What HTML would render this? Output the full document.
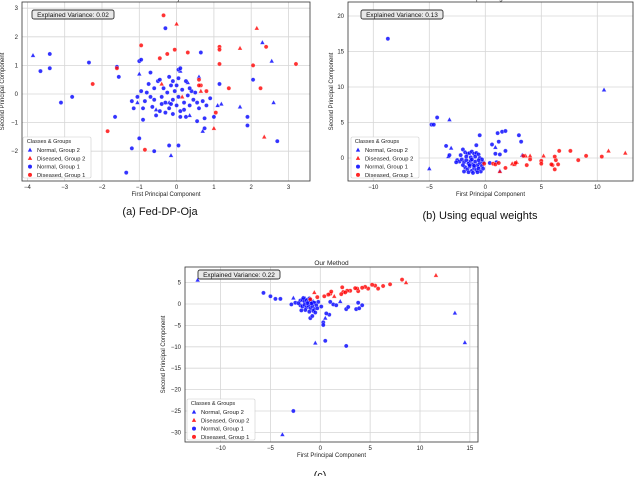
<!DOCTYPE html>
<html><head><meta charset="utf-8"><style>
body{margin:0;background:#fff;width:640px;height:476px;overflow:hidden;font-family:"Liberation Sans",sans-serif}
svg text{font-family:"Liberation Sans",sans-serif}
</style></head><body>
<svg id="fig" width="640" height="476" viewBox="0 0 640 476" xmlns="http://www.w3.org/2000/svg"></svg>
<script>
// ---- Panel A: DP Fed Oja ----
const aN2 = [[-3.85,1.35],[-1.0,0.7],[-1.05,-0.3],[0.1,0.8],[0.6,0.6],[0.3,0.4],[1.1,-0.4],[1.2,-0.35],[1.7,-0.45],[2.3,1.8],[2.55,1.15],[2.6,-0.3],[0.7,-1.3],[-0.15,-2.15],[0.35,-0.75],[-0.2,-0.3],[-0.55,-0.55]];
const aD2 = [[0.0,2.45],[2.15,2.3],[1.7,1.6],[2.35,-1.5],[1.0,-1.2],[0.65,0.1],[0.15,-0.1],[-0.4,0.35]];
const aN1 = [[-3.4,1.4],[-3.65,0.8],[-3.4,0.9],[-2.35,1.1],[-3.1,-0.3],[-2.8,-0.1],[-1.6,0.95],[-1.55,0.6],[-1.65,-0.8],[-1.2,-0.25],[-1.15,-0.5],[-1.2,-1.9],[-1.0,1.15],[-0.95,1.2],[-0.9,-0.9],[-1.0,-1.55],[-0.9,-0.5],[-0.7,0.75],[-1.35,-2.75],[-0.6,-2.0],[-0.2,-1.8],[0.05,-1.8],[-0.3,2.3],[0.65,1.45],[1.15,0.35],[2.05,0.5],[1.9,-0.8],[1.9,-1.1],[2.7,-1.65],[1.0,-0.8],[0.75,-0.85],[0.75,-1.2],[0.55,-0.95],[0.05,0.85],[0.1,0.9],
[-0.8,0.05],[-0.7,-0.1],[-0.6,0.2],[-0.5,0.45],[-0.45,0.5],[-0.4,-0.1],[-0.35,0.2],[-0.3,-0.3],[-0.25,0.05],[-0.2,-0.5],[-0.15,0.3],[-0.1,-0.2],[-0.05,0.1],[0.0,-0.4],[0.0,0.3],[0.05,-0.1],[0.1,-0.6],[0.15,0.15],[0.2,-0.3],[0.25,0.45],[0.3,-0.05],[0.35,-0.4],[0.4,0.1],[0.45,-0.2],[0.5,0.05],[0.55,-0.3],[0.6,-0.5],[0.7,-0.25],[0.8,-0.4],[-0.65,-0.45],[-0.55,-0.75],[-0.45,-0.6],[-0.3,-0.65],[-0.1,-0.7],[0.1,-0.8],[0.2,-0.55],[-0.75,0.35],[-0.85,-0.25],[-0.6,-0.2],[-0.2,0.6],[-0.1,0.45],[0.05,0.55],[0.25,-0.8],[-0.4,-0.35],[-0.15,-0.35],[0.35,0.2],[-0.95,0.1],[0.9,-0.15],[-1.05,-0.1]];
const aD1 = [[-0.35,2.75],[-0.95,1.7],[-0.25,1.4],[-0.45,1.25],[0.3,1.45],[-0.05,1.55],[1.15,1.65],[1.15,1.55],[1.15,1.05],[2.05,1.0],[2.4,1.65],[3.2,1.05],[-1.6,0.9],[-2.25,0.35],[-1.85,-1.3],[-0.85,-1.95],[0.6,0.5],[0.65,0.3],[0.8,0.1],[1.4,0.2],[2.25,0.2],[1.05,-0.65],[0.6,0.3]];
const aXTicks = [-4,-3,-2,-1,0,1,2,3];
const aYTicks = [-2,-1,0,1,2,3];
const aVar = "0.02";

// ---- Panel B: Equal Weights ----
const bN2 = [[10.6,9.6],[-3.2,5.4],[-3.05,1.4],[-5.0,-1.5],[0.9,1.5],[1.3,-1.8],[3.3,0.4],[-3.3,0.2],[-0.6,-1.2],[-1.5,-0.5]];
const bD2 = [[11.0,1.0],[12.5,0.7],[5.2,0.3],[4.0,0.3],[3.6,0.3],[2.4,-0.8],[2.6,-0.9],[1.3,-1.9],[2.8,-0.6]];
const bN1 = [[-8.7,16.8],[-4.3,5.7],[-4.8,4.7],[-4.6,4.7],[-0.5,3.2],[1.1,3.5],[1.5,3.7],[1.8,3.8],[3.0,3.2],[3.2,2.3],[1.2,2.3],[0.6,1.9],[1.8,1.0],[0.9,0.6],[1.3,0.5],[-3.5,1.7],[-3.2,0.4],[-0.8,1.8],[0.4,-0.7],[1.0,-0.6],
[-2.0,1.2],[-1.8,0.8],[-1.6,0.6],[-1.4,0.7],[-1.2,0.9],[-1.0,0.6],[-0.8,0.7],[-0.6,0.5],[-2.5,-0.3],[-2.3,-0.5],[-2.1,-0.2],[-1.9,-0.6],[-1.7,-0.3],[-1.5,-0.8],[-1.3,-0.4],[-1.1,-0.9],[-0.9,-0.5],[-0.7,-1.0],[-0.5,-0.7],[-0.3,-1.1],[-0.2,-0.6],[-1.8,-1.3],[-1.6,-1.6],[-1.4,-1.2],[-1.2,-1.8],[-1.0,-1.4],[-0.8,-1.7],[-0.6,-1.5],[-0.4,-1.9],[-2.0,-1.0],[-1.9,-1.9],[-1.5,-2.0],[-1.1,-2.1],[-0.7,-2.0],[-1.7,0.2],[-1.3,0.1],[-0.9,0.2],[-0.5,0.0],[-0.3,-0.2],[-2.2,0.4],[-1.2,-0.2],[-0.6,-0.3],[-1.4,-1.0],[-1.0,-1.1],[-0.2,-1.5],[-2.6,-0.6]];
const bD1 = [[0.7,-0.8],[0.9,-0.9],[1.2,-0.7],[1.8,-1.4],[3.7,-1.0],[4.0,-0.2],[5.0,-0.4],[5.0,-0.8],[6.0,-1.0],[6.2,-1.6],[6.3,-0.3],[6.5,-0.9],[6.6,1.0],[6.2,0.2],[7.6,1.0],[8.3,-0.3],[9.0,0.3],[10.4,0.2],[3.4,0.3],[2.7,-0.7],[5.9,-0.9],[-0.1,-0.8]];
const bXTicks = [-10,-5,0,5,10];
const bYTicks = [0,5,10,15,20];
const bVar = "0.13";

// ---- Panel C: Our Method ----
const cN2 = [[-12.3,5.6],[-2.7,1.4],[-3.8,-30.5],[-0.5,-9.1],[13.5,-2.1],[14.5,-9.0],[2.0,0.6],[0.5,-3.3],[-1.5,1.3],[-0.7,0.6]];
const cD2 = [[11.6,6.7],[8.6,5.0],[-0.6,2.7],[1.4,1.8],[-1.0,0.8]];
const cN1 = [[-5.7,2.6],[-5.0,1.8],[-4.5,1.2],[-4.0,1.2],[-2.9,-0.1],[-2.5,0.3],[0.5,-8.6],[2.6,-9.8],[-2.7,-25],[0.3,-4.3],[0.3,-4.9],[0.9,-2.5],[0.6,-2.2],[1.0,0.5],[1.3,-0.1],[1.6,-0.3],[2.6,-1.2],[2.8,-0.7],[3.6,-1.2],[3.8,0.3],[3.9,-1.0],[4.2,-0.3],[-1.0,-3.3],[-0.8,-2.8],
[-2.0,0.8],[-1.8,1.0],[-1.6,0.6],[-1.4,0.9],[-1.2,0.5],[-1.0,0.7],[-0.8,0.4],[-0.6,0.3],[-2.0,-0.3],[-1.8,-0.6],[-1.6,-0.2],[-1.4,-0.8],[-1.2,-0.4],[-1.0,-1.0],[-0.8,-0.5],[-0.6,-1.2],[-0.4,-0.3],[-1.9,-1.5],[-1.5,-1.4],[-1.1,-1.8],[-0.7,-1.6],[-0.3,-1.0],[-2.2,0.2],[-1.3,0.2],[-0.9,0.1],[-0.2,0.5],[0.1,-0.6],[-1.7,1.4],[-1.1,1.3],[-0.5,-2.0]];
const cD1 = [[8.2,5.7],[7.0,4.6],[6.3,4.2],[5.8,3.6],[5.5,4.3],[5.2,4.5],[4.8,3.6],[4.5,4.0],[4.2,3.8],[3.8,3.0],[3.7,3.6],[3.5,3.7],[3.0,3.1],[2.7,3.1],[2.3,2.8],[2.2,3.9],[2.1,2.3],[1.0,2.4],[1.1,2.9],[0.8,2.2],[0.4,1.8],[-1.0,1.1],[-0.3,1.6],[2.5,2.7]];
const cXTicks = [-10,-5,0,5,10,15];
const cYTicks = [-30,-25,-20,-15,-10,-5,0,5];
const cVar = "0.22";

const NS = "http://www.w3.org/2000/svg";
const svg = document.getElementById('fig');
function mk(tag, attrs, parent){const e=document.createElementNS(NS,tag);for(const k in attrs)e.setAttribute(k,attrs[k]);(parent||svg).appendChild(e);return e;}
function fmt(v){return v<0?'\u2212'+Math.abs(v):String(v);}
const BLUE='#0000ff', RED='#ff0000';

function panel(cfg){
  const g = mk('g',{});
  
  
  const xs = v => cfg.x0 + cfg.kx*v;
  const ys = v => cfg.y0 - cfg.ky*v;
  const f = cfg.frame;
  mk('rect',{x:f[0],y:f[1],width:f[2]-f[0],height:f[3]-f[1],fill:'#fff'},g);
  cfg.xt.forEach(t=>{
    const l = mk('line',{x1:xs(t),x2:xs(t),y1:f[1],y2:f[3],stroke:'#d6d6d6','stroke-width':0.8},g);
    
    
    const tx = mk('text',{x:xs(t),y:f[3]+8,'font-size':6,'text-anchor':'middle',fill:'#222'},g);
    tx.textContent = fmt(t);
    
    
  });
  cfg.yt.forEach(t=>{
    const l = mk('line',{x1:f[0],x2:f[2],y1:ys(t),y2:ys(t),stroke:'#d6d6d6','stroke-width':0.8},g);
    
    
    const tx = mk('text',{x:f[0]-4,y:ys(t)+2,'font-size':6,'text-anchor':'end',fill:'#222'},g);
    tx.textContent = fmt(t);
    
    
  });
  const fr = mk('rect',{x:f[0],y:f[1],width:f[2]-f[0],height:f[3]-f[1],fill:'none',stroke:'#333','stroke-width':0.8},g);
  
  
  const series = [[cfg.n2,BLUE,'tri','normal-group-2'],[cfg.d2,RED,'tri','diseased-group-2'],[cfg.n1,BLUE,'circ','normal-group-1'],[cfg.d1,RED,'circ','diseased-group-1']];
  series.forEach(s=>{
    s[0].forEach(p=>{
      const X=xs(p[0]),Y=ys(p[1]);
      let m;
      if(s[2]==='tri') m = mk('polygon',{points:`${X},${Y-2.6} ${X-2.4},${Y+1.8} ${X+2.4},${Y+1.8}`,fill:s[1],'fill-opacity':0.8,stroke:'#fff','stroke-width':0.3},g);
      else m = mk('circle',{cx:X,cy:Y,r:2.1,fill:s[1],'fill-opacity':0.8,stroke:'#fff','stroke-width':0.3},g);
      
      
    });
  });
  const t = mk('text',{x:(f[0]+f[2])/2,y:f[1]-2,'font-size':6.5,'text-anchor':'middle',fill:'#222'},g);
  t.textContent = cfg.title;
  
  
  const xl = mk('text',{x:(f[0]+f[2])/2,y:f[3]+15,'font-size':6,'text-anchor':'middle',fill:'#222'},g);
  xl.textContent='First Principal Component';
  
  
  const yc=(f[1]+f[3])/2, yx=cfg.ylx;
  const yl = mk('text',{x:yx,y:yc,'font-size':6,'text-anchor':'middle',fill:'#222',transform:`rotate(-90 ${yx} ${yc})`},g);
  yl.textContent='Second Principal Component';
  
  
  const v=cfg.vbox;
  const vb = mk('rect',{x:v[0],y:v[1],width:82,height:9,rx:2,fill:'#e8e8e8',stroke:'#333','stroke-width':0.9},g);
  
  
  const vt = mk('text',{x:v[0]+41,y:v[1]+7,'font-size':6.5,'text-anchor':'middle',fill:'#111'},g);
  vt.textContent='Explained Variance: '+cfg.vr;
  
  
  const L=cfg.leg;
  const lb = mk('rect',{x:L[0],y:L[1],width:68,height:41,rx:1.5,fill:'#fff','fill-opacity':0.9,stroke:'#ccc','stroke-width':0.6},g);
  
  
  const lt = mk('text',{x:L[0]+26,y:L[1]+6,'font-size':5.5,'text-anchor':'middle',fill:'#222'},g);
  lt.textContent='Classes & Groups';
  
  
  const labels=[['Normal, Group 2',BLUE,'tri'],['Diseased, Group 2',RED,'tri'],['Normal, Group 1',BLUE,'circ'],['Diseased, Group 1',RED,'circ']];
  labels.forEach((e,i)=>{
    const X=L[0]+7, Y=L[1]+13+i*8.3;
    if(e[2]==='tri') mk('polygon',{points:`${X},${Y-2.4} ${X-2.2},${Y+1.6} ${X+2.2},${Y+1.6}`,fill:e[1],'fill-opacity':0.85},g);
    else mk('circle',{cx:X,cy:Y,r:2,fill:e[1],'fill-opacity':0.85},g);
    const tx=mk('text',{x:L[0]+14,y:Y+2,'font-size':5.8,fill:'#222'},g);
    tx.textContent=e[0];
    
    
  });
}

panel({name:'panel-dp-fed-oja',title:'DP Fed Oja',frame:[22,2,310,181],x0:176.6,kx:37.3,y0:94,ky:28.6,xt:aXTicks,yt:aYTicks,n2:aN2,d2:aD2,n1:aN1,d1:aD1,vr:aVar,vbox:[32,10],leg:[23,137],ylx:4});
panel({name:'panel-equal-weights',title:'Equal Weights',frame:[348,2,633,181],x0:485.3,kx:11.2,y0:158,ky:7.1,xt:bXTicks,yt:bYTicks,n2:bN2,d2:bD2,n1:bN1,d1:bD1,vr:bVar,vbox:[361,10],leg:[351,137],ylx:333});
panel({name:'panel-our-method',title:'Our Method',frame:[185,267,478,442],x0:320.3,kx:9.97,y0:304,ky:4.28,xt:cXTicks,yt:cYTicks,n2:cN2,d2:cD2,n1:cN1,d1:cD1,vr:cVar,vbox:[198,270],leg:[187,399],ylx:165});

[['(a) Fed-DP-Oja',160,215,'caption-a'],['(b) Using equal weights',480,219,'caption-b'],['(c)',320,479,'caption-c']].forEach(c=>{
  const t=mk('text',{x:c[1],y:c[2],'font-size':11,'text-anchor':'middle',fill:'#111','font-family':'Liberation Serif, serif'});
  t.textContent=c[0];
  
  
});
</script>
</body></html>
